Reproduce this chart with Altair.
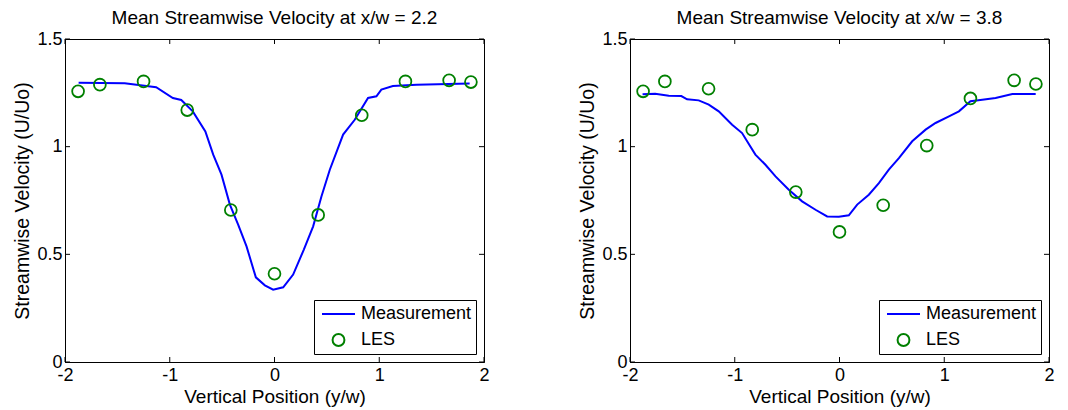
import altair as alt
import pandas as pd

FONT = "Liberation Sans"

# ---- data ----
les_y = [-1.875, -1.667, -1.25, -0.833, -0.417, 0.0, 0.417, 0.833, 1.25, 1.667, 1.875]

les_u_22 = [1.257, 1.288, 1.303, 1.170, 0.706, 0.410, 0.683, 1.146, 1.303, 1.308, 1.300]
les_u_38 = [1.257, 1.303, 1.269, 1.079, 0.789, 0.604, 0.728, 1.005, 1.224, 1.308, 1.291]

meas_y_22 = [-1.87, -1.43, -1.13, -0.97, -0.89, -0.78, -0.66, -0.585, -0.506, -0.426, -0.347,
             -0.267, -0.178, -0.092, -0.013, 0.083, 0.178, 0.28, 0.369, 0.448, 0.528, 0.655,
             0.766, 0.893, 0.973, 1.02, 1.13, 1.355, 1.863]
meas_u_22 = [1.297, 1.294, 1.276, 1.226, 1.217, 1.164, 1.071, 0.963, 0.870, 0.731, 0.638,
             0.537, 0.393, 0.356, 0.336, 0.347, 0.406, 0.522, 0.630, 0.769, 0.893, 1.056,
             1.125, 1.226, 1.234, 1.265, 1.282, 1.288, 1.293]

meas_y_38 = [-1.88, -1.76, -1.63, -1.51, -1.455, -1.344, -1.248, -1.153, -1.025, -0.930, -0.882,
             -0.803, -0.707, -0.611, -0.484, -0.357, -0.229, -0.118, -0.006, 0.089, 0.169, 0.28,
             0.376, 0.471, 0.567, 0.694, 0.822, 0.917, 1.045, 1.14, 1.25, 1.363, 1.49, 1.65, 1.873]
meas_u_38 = [1.243, 1.246, 1.237, 1.235, 1.220, 1.215, 1.195, 1.164, 1.102, 1.063, 1.025,
             0.963, 0.916, 0.862, 0.800, 0.746, 0.707, 0.676, 0.675, 0.681, 0.731, 0.777,
             0.831, 0.893, 0.947, 1.025, 1.079, 1.110, 1.141, 1.164, 1.211, 1.218, 1.226, 1.245, 1.245]

x_ticks = [-2, -1, 0, 1, 2]
y_ticks = [0, 0.5, 1, 1.5]
series = ["Measurement", "LES"]

W, H = 419, 323
TICK = 5

def panel(title, my, mu, ly, lu):
    meas = pd.DataFrame({"y": my, "u": mu, "s": "Measurement"})
    les = pd.DataFrame({"y": ly, "u": lu, "s": "LES"})
    xs = alt.Scale(domain=[-2, 2], nice=False, zero=False)
    ys = alt.Scale(domain=[0, 1.5], nice=False, zero=False)
    xax = alt.Axis(values=x_ticks, labelExpr="datum.value + ''", title="Vertical Position (y/w)",
                   ticks=False, grid=False, labelFlush=False, labelPadding=4, titlePadding=3)
    yax = alt.Axis(values=y_ticks, labelExpr="datum.value + ''", title="Streamwise Velocity (U/Uo)",
                   ticks=False, grid=False, labelFlush=False, labelPadding=3, titlePadding=4,
                   titleFontSize=19.5)
    lg = alt.Legend(title=None, orient="bottom-right", offset=8)
    color = alt.Color("s:N", scale=alt.Scale(domain=series, range=["#0000ff", "#008000"]), legend=lg)
    shape = alt.Shape("s:N", scale=alt.Scale(domain=series, range=["stroke", "circle"]), legend=lg)
    size = alt.Size("s:N", scale=alt.Scale(domain=series, range=[1089, 140]), legend=lg)

    line = alt.Chart(meas).mark_line(strokeWidth=2).encode(
        x=alt.X("y:Q", scale=xs, axis=xax),
        y=alt.Y("u:Q", scale=ys, axis=yax),
        color=color,
    )
    pts = alt.Chart(les).mark_point(filled=False, strokeWidth=1.8, opacity=1).encode(
        x=alt.X("y:Q", scale=xs),
        y=alt.Y("u:Q", scale=ys),
        color=color, shape=shape, size=size,
    )
    # inward tick marks on all four sides (MATLAB-style box axes)
    xt = pd.DataFrame({"t": x_ticks})
    yt = pd.DataFrame({"t": y_ticks})
    tb = alt.Chart(xt).mark_rule(color="black", strokeWidth=1).encode(
        x=alt.X("t:Q", scale=xs), y=alt.value(H), y2=alt.value(H - TICK))
    tt = alt.Chart(xt).mark_rule(color="black", strokeWidth=1).encode(
        x=alt.X("t:Q", scale=xs), y=alt.value(0), y2=alt.value(TICK))
    tl = alt.Chart(yt).mark_rule(color="black", strokeWidth=1).encode(
        y=alt.Y("t:Q", scale=ys), x=alt.value(0), x2=alt.value(TICK))
    tr = alt.Chart(yt).mark_rule(color="black", strokeWidth=1).encode(
        y=alt.Y("t:Q", scale=ys), x=alt.value(W), x2=alt.value(W - TICK))
    return alt.layer(tb, tt, tl, tr, line, pts).properties(
        width=W, height=H,
        title=alt.TitleParams(title, fontSize=19, font=FONT, fontWeight="normal",
                              color="black", offset=2, frame="group", anchor="middle"),
    )

left = panel("Mean Streamwise Velocity at x/w = 2.2", meas_y_22, meas_u_22, les_y, les_u_22)
right = panel("Mean Streamwise Velocity at x/w = 3.8", meas_y_38, meas_u_38, les_y, les_u_38)

chart = alt.hconcat(left, right, spacing=87).resolve_scale(
    color="independent", shape="independent", size="independent"
).resolve_legend(color="independent", shape="independent", size="independent").properties(
    padding={"left": 12, "top": 8, "right": 0, "bottom": 0},
    background="white",
).configure_view(stroke="black", strokeWidth=1).configure_axis(
    domainColor="black", domainWidth=1, labelFont=FONT, titleFont=FONT, labelFontSize=18,
    titleFontSize=19, labelColor="black", titleColor="black", titleFontWeight="normal",
).configure_legend(
    labelFont=FONT, labelFontSize=18, labelColor="black", strokeColor="black",
    fillColor="white", cornerRadius=0, padding=4, rowPadding=6, labelOffset=5,
    symbolOffset=3, symbolStrokeWidth=2, clipHeight=20,
)

chart.save("out.html", embed_options={"renderer": "svg", "actions": False})
